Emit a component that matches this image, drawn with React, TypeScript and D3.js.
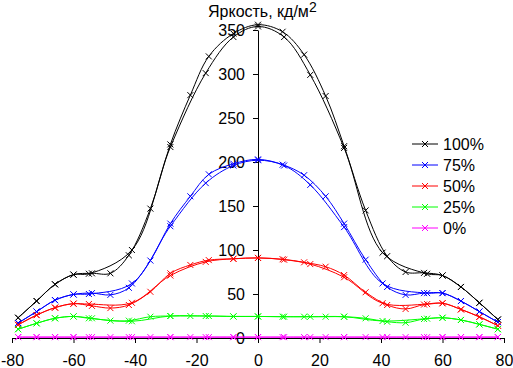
import React, { useRef, useEffect } from "react";
import * as d3 from "d3";

// angles of the two measurement passes (deg)
const anglesA = [-78, -72, -66, -60, -54, -48, -42, -35, -28.5, -22, -16, -8, 0, 8, 15, 22, 28, 35, 42, 48, 54, 60, 66, 72, 78];
const anglesB = [-78, -72, -66, -60, -55, -41, -28.5, -17, -8, 0, 8.5, 17, 28, 40.5, 55, 60, 66, 72, 78];

const seriesNames = ["100%", "75%", "50%", "25%", "0%"];
const seriesColors = ["#000000", "#0000ff", "#ff0000", "#00ff00", "#ff00ff"];

const bright100A = [23, 42, 61, 72, 73.5, 73.5, 94, 147, 220, 276, 320, 346, 356, 348, 322, 275, 218, 145, 93, 75, 74, 71, 58, 40, 21];
const bright100B = [23, 42, 61, 72, 73, 100, 217, 301, 342, 354, 342, 299, 216, 97, 73, 71, 58, 40, 21];
const bright75A = [17, 30, 43, 49.5, 51, 49, 57, 88, 130, 161, 186, 198, 203, 197, 185, 161, 130, 89, 58, 49, 51, 51, 42, 30, 18];
const bright75B = [17, 30, 43, 49.5, 50, 62, 127, 176, 196, 202, 196, 174, 126, 62, 51, 51, 42, 30, 18];
const bright50A = [15, 26, 34.5, 39, 36.5, 34, 37.5, 52.5, 73.5, 83, 88.5, 90, 91, 89.5, 86, 81, 71.5, 52, 37.5, 33, 38, 39.5, 32.5, 24, 14];
const bright50B = [15, 26, 34.5, 39, 38.6, 40, 71, 86.5, 90, 91, 89, 84, 69, 39.5, 38.5, 39.5, 32.5, 24, 14];
const bright25A = [10, 16.7, 22.4, 24.5, 22.4, 19.7, 19.7, 24.2, 25, 25, 25, 24.5, 24.5, 24.2, 24.2, 24.2, 24.2, 22.4, 18.5, 17.4, 21.6, 23, 20.5, 15.5, 10];
const bright25B = [10, 16.7, 22.4, 24.5, 22.4, 19, 25, 25, 24.5, 24.5, 24.2, 24.2, 24.2, 19.3, 22, 23, 20.5, 15.5, 10];
const bright0A = [1, 1, 1, 1, 1, 1, 1, 1, 1, 1, 1, 1, 1, 1, 1, 1, 1, 1, 1, 1, 1, 1, 1, 1, 1];
const bright0B = [1, 1, 1, 1, 1, 1, 1, 1, 1, 1, 1, 1, 1, 1, 1, 1, 1, 1, 1];

const xTicks = [-80, -60, -40, -20, 0, 20, 40, 60, 80];
const yTicks = [0, 50, 100, 150, 200, 250, 300, 350];

const App = () => {
    const chartRef = useRef<HTMLDivElement>(null);

    useEffect(() => {
        const width = 513;
        const height = 368;
        const font = "Liberation Sans, Arial, sans-serif";

        const valuesA = [bright100A, bright75A, bright50A, bright25A, bright0A];
        const valuesB = [bright100B, bright75B, bright50B, bright25B, bright0B];

        const x = d3.scaleLinear().domain([-80, 80]).range([12, 504]);
        const y = d3.scaleLinear().domain([0, 350]).range([338, 30]);

        const line = d3.line<[number, number]>()
            .x(d => x(d[0]))
            .y(d => y(d[1]))
            .curve(d3.curveCatmullRom.alpha(0.5));

        const svg = d3.create("svg")
            .attr("width", width)
            .attr("height", height)
            .attr("viewBox", [0, 0, width, height])
            .style("position", "absolute")
            .style("left", "0px")
            .style("top", "0px")
            .style("background", "#fff");

        svg.append("g")
            .attr("transform", `translate(0,${y(0)})`)
            .call(d3.axisBottom(x).tickValues(xTicks).tickFormat(d => String(d)).tickSize(5).tickSizeOuter(0).tickPadding(12))
            .call(g => g.selectAll("text").style("font", `16px ${font}`).attr("fill", "#000"))
            .call(g => g.selectAll("line,path").attr("stroke", "#000"));

        svg.append("g")
            .attr("transform", `translate(${x(0)},0)`)
            .call(d3.axisLeft(y).tickValues(yTicks).tickFormat(d => String(d)).tickSize(5).tickSizeOuter(0).tickPadding(8))
            .call(g => g.selectAll("text").style("font", `16px ${font}`).attr("fill", "#000"))
            .call(g => g.selectAll("line,path").attr("stroke", "#000"));

        const cross = (g: any, cx: number, cy: number, color: string) => {
            const s = 3;
            g.append("path")
                .attr("d", `M${cx - s},${cy - s}L${cx + s},${cy + s}M${cx - s},${cy + s}L${cx + s},${cy - s}`)
                .attr("stroke", color)
                .attr("stroke-width", 1)
                .attr("fill", "none");
        };

        seriesNames.forEach((name, i) => {
            const color = seriesColors[i];
            const g = svg.append("g");
            [[anglesA, valuesA[i]], [anglesB, valuesB[i]]].forEach(([angles, vals]) => {
                const pts: [number, number][] = angles.map((a, j) => [a, vals[j]]);
                g.append("path")
                    .datum(pts)
                    .attr("fill", "none")
                    .attr("stroke", color)
                    .attr("stroke-width", 1)
                    .attr("d", line);
                pts.forEach(p => cross(g, x(p[0]), y(p[1]), color));
            });
        });

        // legend
        const legend = svg.append("g");
        seriesNames.forEach((name, i) => {
            const ly = 144 + i * 21;
            legend.append("line")
                .attr("x1", 412).attr("x2", 438)
                .attr("y1", ly).attr("y2", ly)
                .attr("stroke", seriesColors[i]);
            cross(legend, 425, ly, seriesColors[i]);
            legend.append("text")
                .attr("x", 443)
                .attr("y", ly)
                .attr("dy", "0.36em")
                .style("font", `16px ${font}`)
                .text(name);
        });

        const title = svg.append("text")
            .attr("x", 208)
            .attr("y", 17)
            .style("font", `16px ${font}`);
        title.append("tspan").text("Яркость, кд/м");
        title.append("tspan").attr("dy", -5).style("font-size", "14px").text("2");

        chartRef.current!.innerHTML = "";
        chartRef.current!.appendChild(svg.node()!);
    }, []);

    return <div ref={chartRef} />;
};

export default App;
